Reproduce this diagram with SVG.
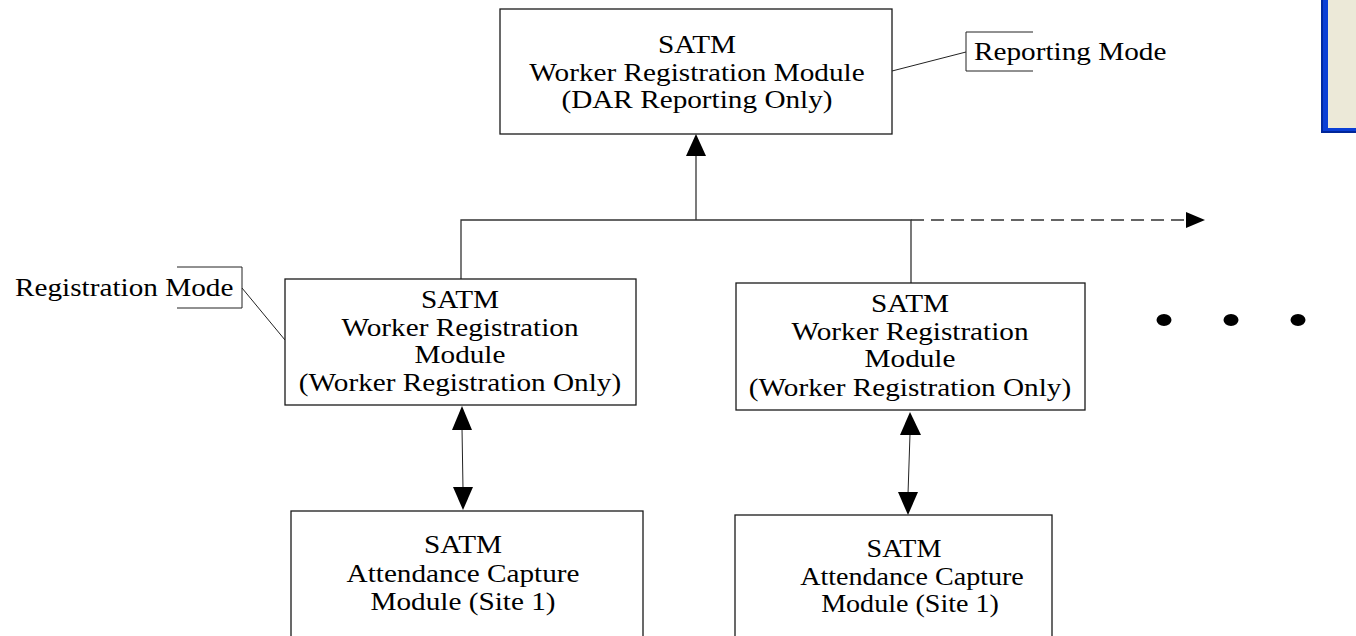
<svg xmlns="http://www.w3.org/2000/svg" width="1356" height="636" viewBox="0 0 1356 636">
  <style>
    .box { fill: #ffffff; stroke: #1a1a1a; stroke-width: 1.3; }
    .t { font-family: "Liberation Serif", "Times New Roman", serif; font-size: 26px; fill: #000; text-anchor: middle; }
    .tl { font-family: "Liberation Serif", "Times New Roman", serif; font-size: 26px; fill: #000; }
    .wire { fill: none; stroke: #333; stroke-width: 1.3; }
    .thin { fill: none; stroke: #222; stroke-width: 1; }
    .head { fill: #000; stroke: none; }
  </style>

  <rect width="1356" height="636" fill="#ffffff"/>

  <!-- window edge at the right border -->
  <g id="window-edge">
    <rect x="1321" y="-4" width="40" height="137" fill="#0a3fd6"/>
    <rect x="1321" y="-4" width="2" height="137" fill="#0029a0"/>
    <rect x="1321" y="131" width="40" height="2" fill="#00269a"/>
    <rect x="1328" y="-4" width="30" height="132" fill="#ece9d8"/>
  </g>

  <!-- connectors -->
  <g id="connectors">
    <!-- bus from second-tier modules up to the reporting module -->
    <path class="wire" d="M461,279 V220 H911 V283"/>
    <path class="wire" d="M696,220 V152"/>
    <polygon class="head" points="696,134 686,156 706,156"/>
    <!-- continuation to further sites -->
    <path class="wire" d="M911,220 H1188" stroke-dasharray="13 7"/>
    <polygon class="head" points="1205,220 1186,212 1186,228"/>
    <!-- registration to attendance, left -->
    <path class="thin" d="M462,428 L463,489"/>
    <polygon class="head" points="462,406 452,430 472,430"/>
    <polygon class="head" points="463,510 453,487 473,487"/>
    <!-- registration to attendance, right -->
    <path class="thin" d="M910,434 L908,494"/>
    <polygon class="head" points="910,412 900,435 921,435"/>
    <polygon class="head" points="908,515 898,492 918,492"/>
  </g>

  <!-- reporting module -->
  <g id="reporting-module">
    <rect class="box" x="500" y="9" width="392" height="125"/>
    <text class="t" transform="translate(697 53) scale(1.125 1)">SATM</text>
    <text class="t" transform="translate(697 80.5) scale(1.125 1)">Worker Registration Module</text>
    <text class="t" transform="translate(697 108) scale(1.125 1)">(DAR Reporting Only)</text>
  </g>

  <!-- callout: Reporting Mode -->
  <g id="reporting-mode-note">
    <path class="thin" d="M892,71 L966,52"/>
    <path class="thin" d="M1033,32 H966 V71 H1033"/>
    <text class="tl" transform="translate(974 60) scale(1.125 1)">Reporting Mode</text>
  </g>

  <!-- callout: Registration Mode -->
  <g id="registration-mode-note">
    <path class="thin" d="M242,288 L285,340"/>
    <path class="thin" d="M177,267 H242 V308 H177"/>
    <text class="tl" transform="translate(15 296) scale(1.125 1)">Registration Mode</text>
  </g>

  <!-- worker registration module, site 1 -->
  <g id="registration-module-1">
    <rect class="box" x="285" y="279" width="351" height="126"/>
    <text class="t" transform="translate(460 308) scale(1.125 1)">SATM</text>
    <text class="t" transform="translate(460 335.5) scale(1.125 1)">Worker Registration</text>
    <text class="t" transform="translate(460 363) scale(1.125 1)">Module</text>
    <text class="t" transform="translate(460 391) scale(1.125 1)">(Worker Registration Only)</text>
  </g>

  <!-- worker registration module, site 2 -->
  <g id="registration-module-2">
    <rect class="box" x="736" y="283" width="349" height="127"/>
    <text class="t" transform="translate(910 312) scale(1.125 1)">SATM</text>
    <text class="t" transform="translate(910 339.5) scale(1.125 1)">Worker Registration</text>
    <text class="t" transform="translate(910 367) scale(1.125 1)">Module</text>
    <text class="t" transform="translate(910 396) scale(1.125 1)">(Worker Registration Only)</text>
  </g>

  <!-- attendance capture module, left -->
  <g id="attendance-module-1">
    <rect class="box" x="291" y="511" width="352" height="140"/>
    <text class="t" transform="translate(463 553) scale(1.125 1)">SATM</text>
    <text class="t" transform="translate(463 581.5) scale(1.125 1)">Attendance Capture</text>
    <text class="t" transform="translate(463 610) scale(1.125 1)">Module (Site 1)</text>
  </g>

  <!-- attendance capture module, right -->
  <g id="attendance-module-2">
    <rect class="box" x="735" y="515" width="317" height="140"/>
    <text class="t" transform="translate(904 557) scale(1.08 1)">SATM</text>
    <text class="t" transform="translate(912 585) scale(1.08 1)">Attendance Capture</text>
    <text class="t" transform="translate(910 612) scale(1.08 1)">Module (Site 1)</text>
  </g>

  <!-- ellipsis: more sites -->
  <g id="more-sites">
    <ellipse class="head" cx="1164" cy="320" rx="7.5" ry="6"/>
    <ellipse class="head" cx="1231" cy="320" rx="7.5" ry="6"/>
    <ellipse class="head" cx="1298" cy="320" rx="7.5" ry="6"/>
  </g>
</svg>
